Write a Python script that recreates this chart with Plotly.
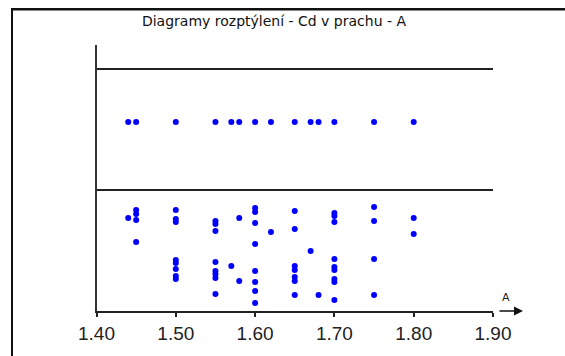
import plotly.graph_objects as go

# ---- data ----
title_text = "Diagramy rozptýlení - Cd v prachu - A"
axis_label = "A"
tick_vals = [1.40, 1.50, 1.60, 1.70, 1.80, 1.90]
tick_text = ["1.40", "1.50", "1.60", "1.70", "1.80", "1.90"]

# upper band points (separate band)
top_x = [1.44, 1.45, 1.50, 1.55, 1.57, 1.58, 1.60, 1.62, 1.65, 1.67, 1.68, 1.70, 1.75, 1.80]
top_y = [189] * len(top_x)

# lower band points
low_x = ([1.44] +
         [1.45] * 4 +
         [1.50] * 8 +
         [1.55] * 8 +
         [1.57] +
         [1.58] * 2 +
         [1.60] * 8 +
         [1.62] +
         [1.65] * 7 +
         [1.67] +
         [1.68] +
         [1.70] * 9 +
         [1.75] * 4 +
         [1.80] * 2)
low_y = ([93] +
         [101, 97, 91, 69] +
         [101, 92, 89, 51, 48, 42, 35, 32] +
         [90, 87, 80, 49, 40, 37, 33, 17] +
         [45] +
         [93, 30] +
         [103, 99, 88, 67, 40, 29, 20, 8] +
         [79] +
         [100, 82, 45, 41, 34, 30, 16] +
         [60] +
         [16] +
         [98, 95, 89, 52, 44, 41, 32, 29, 11] +
         [104, 90, 52, 16] +
         [93, 77])

band_lines = [121, 242]
x_range = [1.40, 1.90]
y_range = [0, 266]

W, H = 565, 356
plot_l, plot_r, plot_t, plot_b = 96.5, 493, 45, 311


def px(xpix):
    return xpix / W


def py(ypix):
    return 1 - ypix / H


fig = go.Figure()
fig.add_trace(go.Scatter(x=top_x + low_x, y=top_y + low_y, mode="markers",
                         marker=dict(color="#0000FF", size=6, line=dict(width=0)),
                         hoverinfo="x+y", showlegend=False))

for yl in band_lines:
    fig.add_shape(type="line", xref="x", yref="y", x0=x_range[0], x1=x_range[1],
                  y0=yl, y1=yl, line=dict(color="#222222", width=2))

# outer frame (left and top edges visible; right/bottom run off the page)
fig.add_shape(type="rect", xref="paper", yref="paper", x0=px(11), x1=px(13),
              y0=0, y1=py(8), fillcolor="#111111", line=dict(width=0), layer="above")
fig.add_shape(type="rect", xref="paper", yref="paper", x0=px(11), x1=1,
              y0=py(10.5), y1=py(8), fillcolor="#111111", line=dict(width=0),
              layer="above")

# arrow to the right of the x axis
fig.add_annotation(x=px(523), y=py(plot_b), ax=-25, ay=0, xref="paper", yref="paper",
                   axref="pixel", ayref="pixel",
                   showarrow=True, arrowhead=2, arrowsize=1.2, arrowwidth=1.5,
                   arrowcolor="#111111", text="")
fig.add_annotation(x=px(506), y=py(297), xref="paper", yref="paper", text=axis_label,
                   showarrow=False, xanchor="center", yanchor="middle",
                   font=dict(family="DejaVu Sans", size=11, color="#222222"))

fig.update_layout(
    width=W, height=H,
    margin=dict(l=0, r=0, t=0, b=0, pad=0),
    paper_bgcolor="white", plot_bgcolor="white",
    title=dict(text=title_text, x=274 / W, xanchor="center", y=1 - 21 / H, yanchor="middle",
               yref="container",
               font=dict(family="DejaVu Sans", size=14, color="#111111")),
    xaxis=dict(range=x_range, domain=[plot_l / W, plot_r / W],
               tickvals=tick_vals, ticktext=tick_text, showgrid=False,
               zeroline=False, showline=True, linecolor="#222222", linewidth=2,
               ticks="outside", ticklen=4, tickwidth=1.5, tickcolor="#222222",
               tickfont=dict(family="Liberation Sans, Arial", size=19, color="#222222"),
               automargin=False, fixedrange=True),
    yaxis=dict(range=y_range, domain=[1 - plot_b / H, 1 - plot_t / H],
               showgrid=False, zeroline=False, showline=True,
               linecolor="#333333", linewidth=2, showticklabels=False, ticks="",
               automargin=False, fixedrange=True),
)

fig.write_html("out.html", config={"displayModeBar": False})
